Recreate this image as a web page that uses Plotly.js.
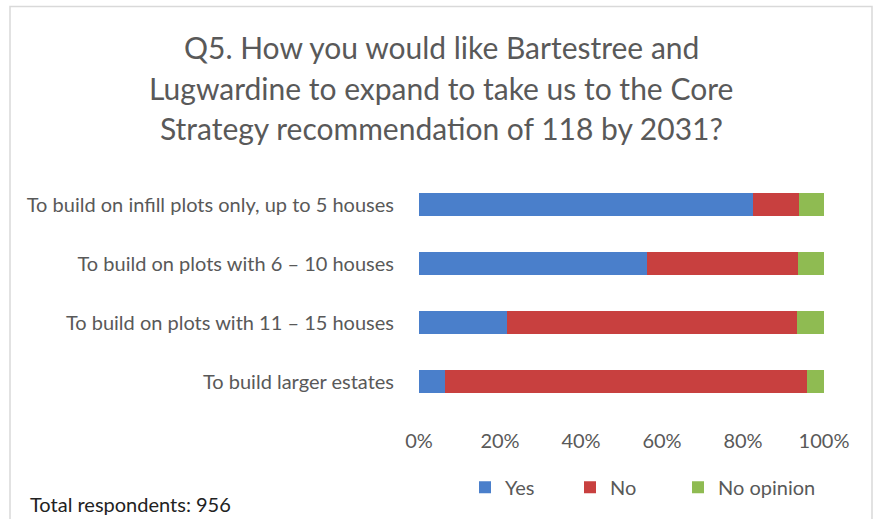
<!DOCTYPE html>
<html>
<head>
<meta charset="utf-8">
<script src="https://cdn.plot.ly/plotly-3.0.1.min.js"></script>
<style>html,body{margin:0;padding:0;background:#fff;}#chart{width:880px;height:519px;}</style>
</head>
<body>
<div id="chart"></div>
<script>
// Data (percent of respondents)
const categories = [
  "To build on infill plots only, up to 5 houses",
  "To build on plots with 6 \u2013 10 houses",
  "To build on plots with 11 \u2013 15 houses",
  "To build larger estates"
];
const yesValues = [82.5, 56.3, 21.7, 6.4];
const noValues = [11.3, 37.3, 71.6, 89.4];
const noOpinionValues = [6.2, 6.4, 6.7, 4.2];
const seriesNames = ["Yes", "No", "No opinion"];
const tickValues = [0, 20, 40, 60, 80, 100];
const tickLabels = ["0%", "20%", "40%", "60%", "80%", "100%"];
const titleLines = [
  "Q5. How you would like Bartestree and",
  "Lugwardine to expand to take us to the Core",
  "Strategy recommendation of 118 by 2031?"
];
const footnote = "Total respondents: 956";
const colors = ["#4a7fcb", "#c8403f", "#8fbb52"];

const W = 880, H = 519;
const L = 419, R = 56, T = 175, B = 106;
const pw = W - L - R, ph = H - T - B;
const px = x => (x - L) / pw;
const py = y => (H - B - y) / ph;

const font = "Lato, 'Open Sans', sans-serif";
const legendIds = ["legend", "legend2", "legend3"];
const legendX = [465, 570, 678];
const vals = [yesValues, noValues, noOpinionValues];
const traces = vals.map((v, i) => ({
  type: "bar",
  orientation: "h",
  name: seriesNames[i],
  y: categories,
  x: v,
  marker: {color: colors[i]},
  legend: legendIds[i],
  hoverinfo: "x+name"
}));

const titleY = [46, 87, 128];
const annotations = titleLines.map((t, i) => ({
  text: t,
  xref: "paper", yref: "paper",
  x: px(441), y: py(titleY[i]),
  xanchor: "center", yanchor: "middle",
  showarrow: false,
  font: {family: font, size: 30, color: "#595959"}
}));
annotations.push({
  text: footnote,
  xref: "paper", yref: "paper",
  x: px(28), y: py(507),
  xanchor: "left", yanchor: "middle",
  showarrow: false,
  font: {family: font, size: 20, color: "#222222"}
});

const layout = {
  width: W, height: H,
  margin: {l: L, r: R, t: T, b: B, pad: 0},
  barmode: "stack",
  bargap: 0.61,
  paper_bgcolor: "#ffffff",
  plot_bgcolor: "#ffffff",
  font: {family: font, color: "#595959", size: 20},
  xaxis: {
    range: [0, 100],
    tickvals: tickValues,
    ticktext: tickLabels,
    showgrid: false,
    zeroline: false,
    showline: false,
    ticks: "outside", ticklen: 12, tickcolor: "rgba(0,0,0,0)",
    tickfont: {size: 20, color: "#595959"},
    fixedrange: true
  },
  yaxis: {
    autorange: "reversed",
    showgrid: false,
    zeroline: false,
    showline: false,
    ticks: "outside", ticklen: 20, tickcolor: "rgba(0,0,0,0)",
    tickfont: {size: 20, color: "#595959"},
    fixedrange: true
  },
  showlegend: true,
  annotations: annotations,
  shapes: [{
    type: "rect", xref: "paper", yref: "paper",
    x0: px(10), x1: px(872), y0: py(530), y1: py(5),
    line: {color: "#d9d9d9", width: 1.5},
    fillcolor: "rgba(0,0,0,0)",
    layer: "below"
  }]
};
legendIds.forEach((id, i) => {
  layout[id] = {
    orientation: "h",
    x: px(legendX[i]), xanchor: "left",
    y: py(490), yanchor: "middle",
    font: {size: 20, color: "#595959"},
    itemwidth: 30,
    bgcolor: "rgba(0,0,0,0)"
  };
});

Plotly.newPlot("chart", traces, layout, {displayModeBar: false, staticPlot: true});
</script>
</body>
</html>
